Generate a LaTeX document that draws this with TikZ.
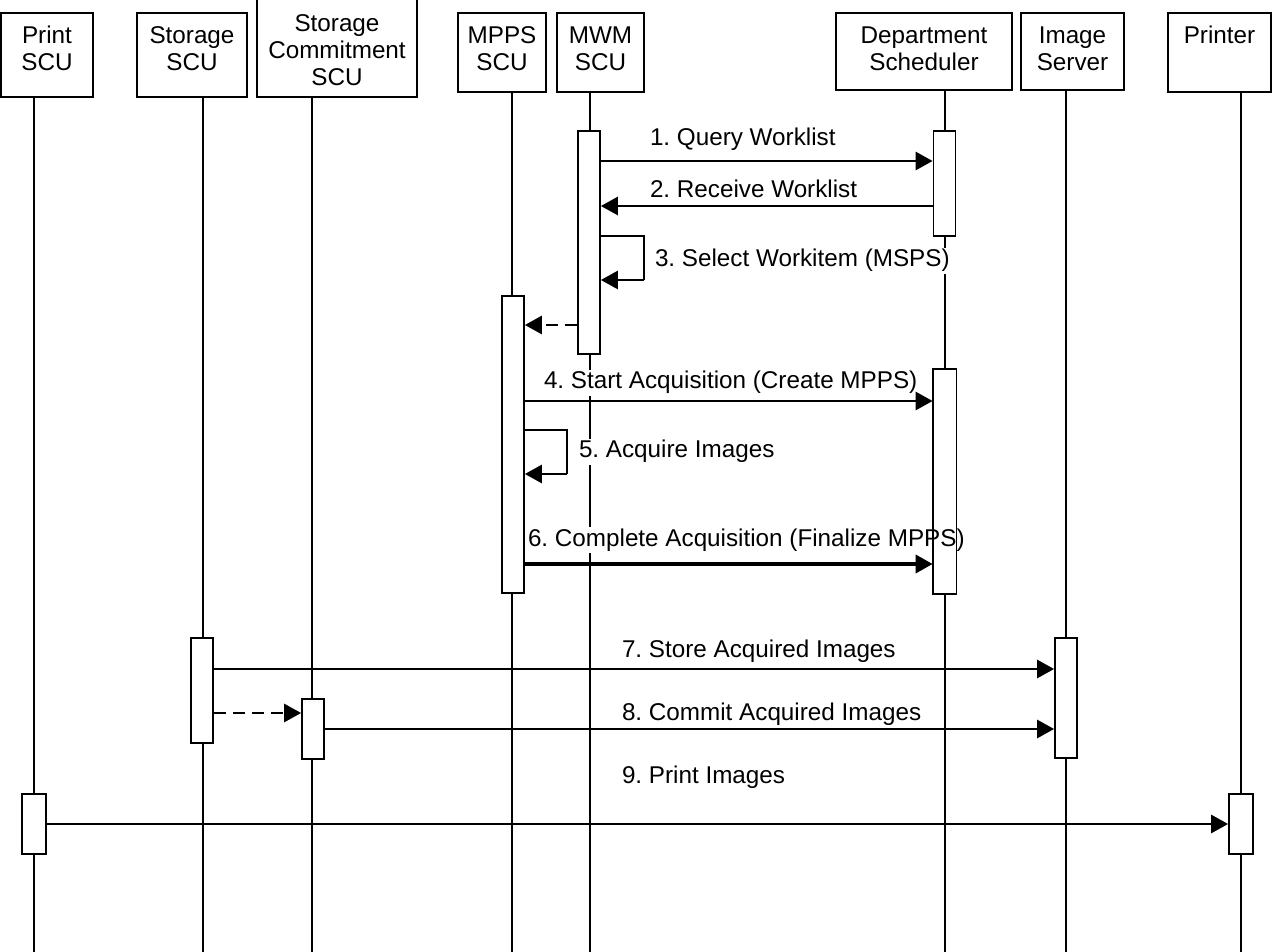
\documentclass[tikz,border=0pt]{standalone}
\usepackage{fontspec}
\setmainfont{Liberation Sans}
\usetikzlibrary{arrows.meta}
\frenchspacing
\newdimen\px \px=0.4pt
\tikzset{
  actor/.style={draw, line width=0.7pt, inner sep=0pt},
  hdr/.style={anchor=north, inner sep=0pt, yshift=-14\px, align=center, font=\fontsize{9.7}{10.8}\selectfont},
  life/.style={line width=0.7pt},
  act/.style={draw, fill=white, line width=0.7pt, minimum width=22\px, inner sep=0pt},
  msg/.style={line width=1.1pt, -{Triangle[length=6.8pt,width=7.2pt]}},
  async/.style={msg, dash pattern=on 4.8pt off 2.8pt},
  lbl/.style={fill=white, inner sep=0.6pt, anchor=base west, font=\fontsize{9.7}{11}\selectfont}
}
\begin{document}
\begin{tikzpicture}[x=\px,y=-\px]
\useasboundingbox (0,0) rectangle (1274,952);
\node[actor, minimum width=92\px, minimum height=84\px, label={[hdr]north:Print\\SCU}] (print) at (47,54.7) {};
\node[actor, minimum width=110\px, minimum height=84\px, label={[hdr]north:Storage\\SCU}] (stor) at (192,54.7) {};
\node[actor, minimum width=160\px, minimum height=100\px, label={[hdr,yshift=-4\px]north:Storage\\Commitment\\SCU}] (scom) at (337,46.7) {};
\node[actor, minimum width=88\px, minimum height=79.3\px, label={[hdr]north:MPPS\\SCU}] (mpps) at (502,52.35) {};
\node[actor, minimum width=87\px, minimum height=79.3\px, label={[hdr]north:MWM\\SCU}] (mwm) at (600.5,52.35) {};
\node[actor, minimum width=176\px, minimum height=77.3\px, label={[hdr]north:Department\\Scheduler}] (dept) at (924,51.35) {};
\node[actor, minimum width=103\px, minimum height=77.3\px, label={[hdr]north:Image\\Server}] (img) at (1072.5,51.35) {};
\node[actor, minimum width=103\px, minimum height=79.3\px, label={[hdr]north:Printer}] (printer) at (1219.5,52.35) {};
\foreach \n/\x in {print/34, stor/203, scom/312, mpps/512, mwm/590, dept/945, img/1066, printer/1241}{
  \coordinate (\n-end) at (\x,952);
  \draw[life] (\n-end |- \n.south) -- (\n-end);
}
\node[act, minimum height=223\px] (mwmA) at (589,242.5) {};
\node[act, minimum height=105\px] (deptA) at (944.5,183.5) {};
\node[act, minimum height=297\px] (mppsA) at (513,444.5) {};
\node[act, draw=none, minimum height=223\px] (deptB) at (944.5,481.5) {};
\node[act, minimum height=105\px] (storA) at (202,690.5) {};
\node[act, minimum height=60\px] (scomA) at (313,729) {};
\node[act, minimum height=120\px] (imgA) at (1066,698) {};
\node[act, minimum width=24\px, minimum height=60\px] (printA) at (34,824) {};
\node[act, minimum width=24\px, minimum height=60\px] (printerA) at (1241,824) {};
\node[lbl] (l1) at (648,146) {1. Query Worklist};
\node[lbl] (l2) at (648,198) {2. Receive Worklist};
\node[lbl] (l3) at (653,267) {3. Select Workitem (MSPS)};
\node[lbl] (l4) at (542,389) {4. Start Acquisition (Create MPPS)};
\node[lbl] (l5) at (577,458) {5. Acquire Images};
\node[lbl] (l6) at (526,546) {6. Complete Acquisition (Finalize MPPS)};
\node[lbl] (l7) at (620,657) {7. Store Acquired Images};
\node[lbl] (l8) at (620,720) {8. Commit Acquired Images};
\node[lbl] (l9) at (620,783) {9. Print Images};
\draw[life] (deptB.south west) rectangle (deptB.north east);
\coordinate (m1) at (0,161);
\coordinate (m2) at (0,206);
\coordinate (s3) at (644,236);
\coordinate (s3b) at (644,280);
\coordinate (mr) at (0,325);
\coordinate (m4) at (0,401);
\coordinate (s5) at (567,430);
\coordinate (s5b) at (567,474);
\coordinate (m6) at (0,564);
\coordinate (m7) at (0,669);
\coordinate (sr) at (0,713);
\coordinate (m8) at (0,729);
\coordinate (m9) at (0,824);
\draw[msg] (mwmA.east |- m1) -- (deptA.west |- m1);
\draw[msg] (deptA.west |- m2) -- (mwmA.east |- m2);
\draw[life] (mwmA.east |- s3) -- (s3) -- (s3b);
\draw[msg] (s3b) -- (mwmA.east |- s3b);
\draw[async] (mwmA.west |- mr) -- (mppsA.east |- mr);
\draw[msg] (mppsA.east |- m4) -- (deptB.west |- m4);
\draw[life] (mppsA.east |- s5) -- (s5) -- (s5b);
\draw[msg] (s5b) -- (mppsA.east |- s5b);
\draw[msg, line width=1.5pt] (mppsA.east |- m6) -- (deptB.west |- m6);
\draw[msg] (storA.east |- m7) -- (imgA.west |- m7);
\draw[async] (storA.east |- sr) -- (scomA.west |- sr);
\draw[msg] (scomA.east |- m8) -- (imgA.west |- m8);
\draw[msg] (printA.east |- m9) -- (printerA.west |- m9);
\end{tikzpicture}
\end{document}
